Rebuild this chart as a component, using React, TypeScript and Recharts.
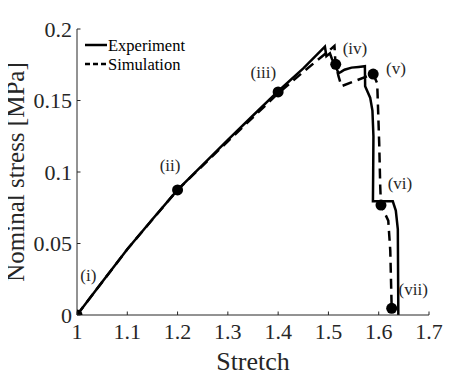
import React from 'react';
import { ComposedChart, Line, Scatter, XAxis, YAxis, Legend } from 'recharts';

// Experiment curve (stretch, nominal stress in MPa)
const expStretch = [1, 1.05, 1.1, 1.15, 1.2, 1.25, 1.3, 1.35, 1.4, 1.45, 1.493, 1.496, 1.503, 1.507, 1.512, 1.52, 1.525, 1.532, 1.546, 1.56, 1.5725, 1.573, 1.583, 1.5875, 1.5895, 1.589, 1.5885, 1.628, 1.634, 1.638, 1.639];
const expStress = [0, 0.023, 0.046, 0.067, 0.0875, 0.105, 0.1225, 0.1395, 0.1565, 0.1725, 0.1876, 0.181, 0.183, 0.179, 0.176, 0.169, 0.17, 0.1715, 0.173, 0.1735, 0.174, 0.16, 0.152, 0.143, 0.125, 0.1, 0.0795, 0.0795, 0.073, 0.06, 0];

// Simulation curve
const simStretch = [1, 1.1, 1.2, 1.3, 1.4, 1.45, 1.5, 1.512, 1.5135, 1.5145, 1.52, 1.526, 1.589, 1.597, 1.601, 1.603, 1.6045, 1.619, 1.623, 1.6258];
const simStress = [0, 0.046, 0.0875, 0.1215, 0.155, 0.17, 0.1845, 0.1882, 0.179, 0.1753, 0.167, 0.16, 0.1685, 0.162, 0.12, 0.09, 0.0769, 0.066, 0.045, 0.0047];

// Marked stages
const stageStretch = [1, 1.2, 1.4, 1.5145, 1.589, 1.6045, 1.6258];
const stageStress = [0, 0.0875, 0.156, 0.1753, 0.1685, 0.0769, 0.0047];
const stageLabels = ['(i)', '(ii)', '(iii)', '(iv)', '(v)', '(vi)', '(vii)'];
const stageLabelStretch = [1.0225, 1.185, 1.3705, 1.5528, 1.6344, 1.6423, 1.6686];
const stageLabelStress = [0.028, 0.1049, 0.1701, 0.1869, 0.1725, 0.0921, 0.0182];

const xTicks = [1, 1.1, 1.2, 1.3, 1.4, 1.5, 1.6, 1.7];
const yTicks = [0, 0.05, 0.1, 0.15, 0.2];
const xTickLabels = ['1', '1.1', '1.2', '1.3', '1.4', '1.5', '1.6', '1.7'];
const yTickLabels = ['0', '0.05', '0.1', '0.15', '0.2'];

const seriesNames = ['Experiment', 'Simulation'];

const expData = expStretch.map((x, i) => ({ x, y: expStress[i] }));
const simData = simStretch.map((x, i) => ({ x, y: simStress[i] }));
const stageData = stageStretch.map((x, i) => ({ x, y: stageStress[i] }));
const stageLabelData = stageLabelStretch.map((x, i) => ({ x, y: stageLabelStress[i], label: stageLabels[i] }));

const FONT = '"Liberation Serif", "Times New Roman", serif';
const AXIS_COLOR = '#262626';
const TICK_LEN = 3.5;
const X_GAP = 8;
const Y_GAP = 5;

const fmtX = (v: number) => {
  const i = xTicks.findIndex((t) => Math.abs(t - v) < 1e-9);
  return i >= 0 ? xTickLabels[i] : String(v);
};
const fmtY = (v: number) => {
  const i = yTicks.findIndex((t) => Math.abs(t - v) < 1e-9);
  return i >= 0 ? yTickLabels[i] : String(v);
};

const BottomTick = (props: any) => {
  const { x, y, payload } = props;
  return (
    <g>
      <line x1={x} x2={x} y1={y - X_GAP} y2={y - X_GAP - TICK_LEN} stroke={AXIS_COLOR} strokeWidth={1} />
      <text x={x} y={y} dy="0.71em" textAnchor="middle" fill={AXIS_COLOR} fontSize={22} fontFamily={FONT}>
        {fmtX(payload.value)}
      </text>
    </g>
  );
};

const LeftTick = (props: any) => {
  const { x, y, payload } = props;
  return (
    <g>
      <line x1={x + Y_GAP} x2={x + Y_GAP + TICK_LEN} y1={y} y2={y} stroke={AXIS_COLOR} strokeWidth={1} />
      <text x={x} y={y} dy="0.35em" textAnchor="end" fill={AXIS_COLOR} fontSize={22} fontFamily={FONT}>
        {fmtY(payload.value)}
      </text>
    </g>
  );
};

const TopTick = (props: any) => {
  const { x, y } = props;
  return <line x1={x} x2={x} y1={y} y2={y + TICK_LEN} stroke={AXIS_COLOR} strokeWidth={1} />;
};

const RightTick = (props: any) => {
  const { x, y } = props;
  return <line x1={x} x2={x - TICK_LEN} y1={y} y2={y} stroke={AXIS_COLOR} strokeWidth={1} />;
};

const StageDot = (props: any) => {
  const { cx, cy } = props;
  return <circle cx={cx} cy={cy} r={5.5} fill="#000" />;
};

const StageLabel = (props: any) => {
  const { cx, cy, payload } = props;
  return (
    <text x={cx} y={cy} dy="0.35em" textAnchor="middle" fill="#262626" fontSize={17} fontFamily={FONT}>
      {payload.label}
    </text>
  );
};

const LegendContent = (props: any) => {
  const { payload } = props;
  const items = (payload || []).filter((e: any) => seriesNames.includes(e.value));
  return (
    <div>
      {items.map((e: any) => {
        const dashed = !!(e.payload && e.payload.strokeDasharray);
        return (
          <div key={e.value} style={{ display: 'flex', alignItems: 'center', height: 19 }}>
            <svg width={22} height={6} style={{ display: 'block' }}>
              <line x1={0} x2={22} y1={3} y2={3} stroke="#000" strokeWidth={2.5} strokeDasharray={dashed ? '5 3' : undefined} />
            </svg>
            <span style={{ marginLeft: 1, fontFamily: FONT, fontSize: 16.5, color: '#000', lineHeight: '19px' }}>{e.value}</span>
          </div>
        );
      })}
    </div>
  );
};

export default function App() {
  return (
    <div style={{ margin: -8, width: 474, height: 379, position: 'relative' }}>
      <ComposedChart
        width={474}
        height={379}
        margin={{ top: 29, right: 45, bottom: 0, left: 15 }}
        style={{ fontFamily: FONT }}
      >
        <XAxis
          xAxisId={0}
          type="number"
          dataKey="x"
          domain={[1, 1.7]}
          ticks={xTicks}
          allowDataOverflow
          height={64}
          tickSize={0}
          tickMargin={X_GAP}
          tickLine={false}
          axisLine={{ stroke: AXIS_COLOR, strokeWidth: 1 }}
          tick={<BottomTick />}
          interval={0}
          label={{ value: 'Stretch', position: 'insideBottom', offset: 9, style: { fontSize: 26, fontFamily: FONT, fill: AXIS_COLOR } }}
        />
        <XAxis
          xAxisId="top"
          orientation="top"
          type="number"
          dataKey="x"
          domain={[1, 1.7]}
          ticks={xTicks}
          allowDataOverflow
          height={0}
          tickSize={0}
          tickMargin={0}
          tickLine={false}
          axisLine={{ stroke: AXIS_COLOR, strokeWidth: 1 }}
          tick={<TopTick />}
          interval={0}
        />
        <YAxis
          yAxisId={0}
          type="number"
          domain={[0, 0.2]}
          ticks={yTicks}
          allowDataOverflow
          width={62}
          tickSize={0}
          tickMargin={Y_GAP}
          tickLine={false}
          axisLine={{ stroke: AXIS_COLOR, strokeWidth: 1 }}
          tick={<LeftTick />}
          interval={0}
          label={{ value: 'Nominal stress [MPa]', angle: -90, position: 'insideLeft', offset: 0, style: { textAnchor: 'middle', fontSize: 25, fontFamily: FONT, fill: AXIS_COLOR } }}
        />
        <YAxis
          yAxisId="right"
          orientation="right"
          type="number"
          domain={[0, 0.2]}
          ticks={yTicks}
          allowDataOverflow
          width={0}
          tickSize={0}
          tickMargin={0}
          tickLine={false}
          axisLine={{ stroke: AXIS_COLOR, strokeWidth: 1 }}
          tick={<RightTick />}
          interval={0}
        />
        <Line
          data={expData}
          dataKey="y"
          name={seriesNames[0]}
          type="linear"
          stroke="#000"
          strokeWidth={2.5}
          dot={false}
          activeDot={false}
          isAnimationActive={false}
        />
        <Line
          data={simData}
          dataKey="y"
          name={seriesNames[1]}
          type="linear"
          stroke="#000"
          strokeWidth={2.5}
          strokeDasharray="10 6"
          dot={false}
          activeDot={false}
          isAnimationActive={false}
        />
        <Scatter data={stageData} dataKey="y" shape={<StageDot />} legendType="none" isAnimationActive={false} />
        <Scatter data={stageLabelData} dataKey="y" shape={<StageLabel />} legendType="none" isAnimationActive={false} />
        <Legend
          layout="vertical"
          align="center"
          verticalAlign="middle"
          wrapperStyle={{ left: 85, top: 35.5, width: 130, height: 40 }}
          content={<LegendContent />}
        />
      </ComposedChart>
    </div>
  );
}
